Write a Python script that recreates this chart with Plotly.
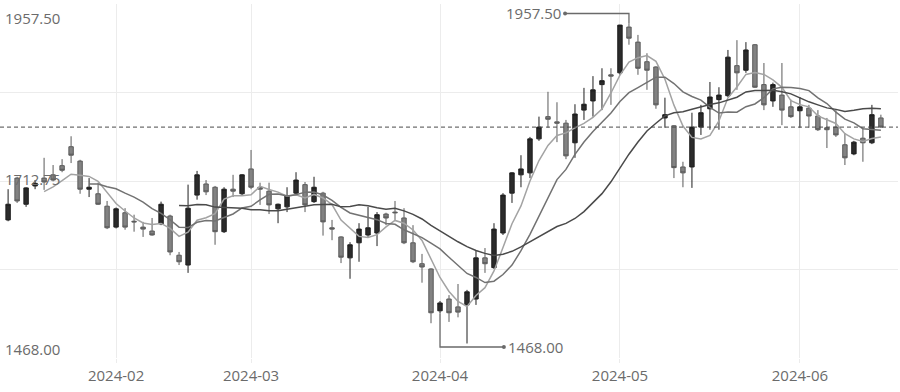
import numpy as np
import pandas as pd
import plotly.graph_objects as go

# ---- categories: trading days (day-of-month per month) ----
JAN = [16, 17, 18, 19, 22, 23, 24, 25, 26, 29, 30, 31]
FEB = [1, 2, 5, 6, 7, 8, 19, 20, 21, 22, 23, 26, 27, 28, 29]
MAR = [1, 4, 5, 6, 7, 8, 11, 12, 13, 14, 15, 18, 19, 20, 21, 22, 25, 26, 27, 28, 29]
APR = [1, 2, 3, 8, 9, 10, 11, 12, 15, 16, 17, 18, 19, 22, 23, 24, 25, 26, 29, 30]
MAY = [6, 7, 8, 9, 10, 13, 14, 15, 16, 17, 20, 21, 22, 23, 24, 27, 28, 29, 30, 31]
JUN = [3, 4, 5, 6, 7, 11, 12, 13, 14, 17]

dates = []
for m, days in [(1, JAN), (2, FEB), (3, MAR), (4, APR), (5, MAY), (6, JUN)]:
    dates += [f"2024-{m:02d}-{d:02d}" for d in days]

# ---- OHLC values ----
open_ = [1657, 1721, 1681, 1709, 1721, 1726, 1740, 1769, 1747, 1704,
         1697, 1678, 1646, 1668, 1655, 1646, 1640, 1651, 1663, 1603,
         1588, 1695, 1712, 1707, 1639, 1704, 1697, 1735, 1707, 1701,
         1674, 1677, 1698, 1711, 1685, 1698, 1645, 1631, 1599, 1622,
         1634, 1637, 1666, 1669, 1660, 1622, 1590, 1582, 1518, 1536,
         1524, 1527, 1536, 1599, 1584, 1637, 1698, 1726, 1729, 1781,
         1815, 1807, 1805, 1775, 1825, 1839, 1864, 1879, 1882, 1952,
         1929, 1899, 1891, 1813, 1801, 1738, 1738, 1799, 1827, 1841,
         1847, 1893, 1886, 1925, 1864, 1839, 1848, 1830, 1824, 1828,
         1816, 1798, 1799, 1772, 1758, 1782, 1775, 1813]
high = [1704, 1723, 1707, 1718, 1752, 1741, 1750, 1785, 1749, 1721,
        1714, 1686, 1676, 1675, 1665, 1654, 1660, 1685, 1665, 1608,
        1711, 1732, 1718, 1709, 1707, 1726, 1727, 1764, 1714, 1714,
        1682, 1707, 1730, 1715, 1723, 1700, 1657, 1632, 1623, 1652,
        1677, 1669, 1668, 1686, 1675, 1649, 1605, 1583, 1533, 1542,
        1559, 1550, 1610, 1614, 1652, 1698, 1730, 1756, 1784, 1815,
        1853, 1837, 1810, 1834, 1859, 1877, 1889, 1889, 1955.5, 1957.5,
        1940, 1912, 1892, 1844, 1802, 1746, 1821, 1833, 1868, 1860,
        1917, 1932, 1929, 1926, 1897, 1867, 1897, 1841, 1845, 1833,
        1825, 1813, 1825, 1790, 1778, 1798, 1833, 1818]
low = [1655, 1683, 1677, 1704, 1703, 1716, 1730, 1744, 1697, 1692,
       1680, 1643, 1644, 1642, 1639, 1631, 1633, 1649, 1603, 1588,
       1576, 1688, 1695, 1619, 1637, 1692, 1695, 1704, 1680, 1666,
       1652, 1669, 1695, 1669, 1683, 1633, 1626, 1591, 1567, 1593,
       1631, 1617, 1649, 1657, 1620, 1591, 1561, 1499, 1514, 1501,
       1508, 1468, 1527, 1576, 1582, 1634, 1683, 1707, 1721, 1778,
       1798, 1776, 1750, 1752, 1810, 1815, 1825, 1833, 1879, 1925,
       1879, 1856, 1827, 1798, 1721, 1707, 1706, 1787, 1795, 1795,
       1845, 1856, 1882, 1859, 1825, 1830, 1802, 1813, 1798, 1798,
       1793, 1767, 1784, 1741, 1756, 1746, 1773, 1798]
close = [1681, 1686, 1706, 1713, 1715, 1718, 1733, 1756, 1704, 1707,
         1681, 1645, 1674, 1646, 1654, 1643, 1634, 1681, 1608, 1593,
         1675, 1726, 1700, 1639, 1704, 1701, 1726, 1707, 1704, 1680,
         1681, 1694, 1718, 1680, 1707, 1654, 1643, 1600, 1619, 1643,
         1645, 1665, 1660, 1668, 1622, 1593, 1585, 1515, 1530, 1515,
         1516, 1547, 1599, 1590, 1643, 1695, 1729, 1735, 1781, 1799,
         1811, 1805, 1755, 1819, 1834, 1856, 1870, 1877, 1955, 1935,
         1889, 1886, 1833, 1818, 1737, 1729, 1799, 1821, 1845, 1848,
         1906, 1882, 1917, 1860, 1833, 1864, 1825, 1815, 1830, 1816,
         1795, 1795, 1787, 1752, 1776, 1775, 1818, 1799]

MA_WINDOWS = [5, 10, 20]
MONTH_TICKS = ["2024-02", "2024-03", "2024-04", "2024-05", "2024-06"]
MIN_MARK_INDEX = 48  # candle the low-marker connector is attached to

# ---- styles ----
FONT = "Open Sans"
TXT = "#6b6b6b"
GRID = "#ececec"
MA_COLORS = ["#a3a3a3", "#727272", "#4a4a4a"]

H_PX, MT, MB = 392, 4, 34
Y_RANGE = [1445.8, 1987.3]
ppu = (H_PX - MT - MB) / (Y_RANGE[1] - Y_RANGE[0])

closes = pd.Series(close, dtype=float)

fig = go.Figure()
fig.add_trace(go.Candlestick(
    x=dates, open=open_, high=high, low=low, close=close,
    increasing=dict(line=dict(color="#1e1e1e", width=1), fillcolor="#2b2b2b"),
    decreasing=dict(line=dict(color="#5a5a5a", width=1), fillcolor="#828282"),
    whiskerwidth=0, showlegend=False, hoverinfo="skip",
))
for w, col in zip(MA_WINDOWS, MA_COLORS):
    ma = closes.rolling(w).mean()
    fig.add_trace(go.Scatter(x=dates, y=ma, mode="lines",
                             line=dict(color=col, width=1.5),
                             showlegend=False, hoverinfo="skip"))

ymax = max(high)
ymin = min(low)
imax = high.index(ymax)
ymid = (ymax + ymin) / 2

shapes = []
annos = []
# last price dashed line
shapes.append(dict(type="line", xref="paper", x0=0, x1=1, yref="y",
                   y0=close[-1], y1=close[-1],
                   line=dict(color="#4a4a4a", width=1, dash="4px,3px")))

# max marker
mk_col = "#6a6a6a"
ymax_line = ymax + 10 / ppu
xmax_lbl = imax - 7.1
shapes.append(dict(type="path", xref="x", yref="y",
                   path=f"M {xmax_lbl},{ymax_line} L {imax},{ymax_line} L {imax},{ymax}",
                   line=dict(color=mk_col, width=1.3)))
shapes.append(dict(type="circle", xref="x", yref="y", xsizemode="pixel", ysizemode="pixel",
                   xanchor=xmax_lbl, yanchor=ymax_line, x0=-2, x1=2, y0=-2, y1=2,
                   fillcolor=mk_col, line=dict(width=0)))
annos.append(dict(x=xmax_lbl, y=ymax_line, xref="x", yref="y", text=f"{ymax:.2f}",
                  showarrow=False, xanchor="right", yanchor="middle", xshift=-2,
                  font=dict(family=FONT, size=15, color=TXT)))

# min marker
ymin_line = ymin - 3.5 / ppu
xmin_lbl = MIN_MARK_INDEX + 7.1
shapes.append(dict(type="path", xref="x", yref="y",
                   path=f"M {MIN_MARK_INDEX},{low[MIN_MARK_INDEX]} L {MIN_MARK_INDEX},{ymin_line} L {xmin_lbl},{ymin_line}",
                   line=dict(color=mk_col, width=1.3)))
shapes.append(dict(type="circle", xref="x", yref="y", xsizemode="pixel", ysizemode="pixel",
                   xanchor=xmin_lbl, yanchor=ymin_line, x0=-2, x1=2, y0=-2, y1=2,
                   fillcolor=mk_col, line=dict(width=0)))
annos.append(dict(x=xmin_lbl, y=ymin_line, xref="x", yref="y", text=f"{ymin:.2f}",
                  showarrow=False, xanchor="left", yanchor="middle", xshift=2,
                  font=dict(family=FONT, size=15, color=TXT)))

# y-axis labels inside plot
for val, ys in [(ymax, 5.5), (ymid, 4.5), (ymin, -5.5)]:
    annos.append(dict(x=0, xref="paper", y=val, yref="y", text=f"{val:.2f}",
                      showarrow=False, xanchor="left", yanchor="middle",
                      xshift=3, yshift=ys,
                      font=dict(family=FONT, size=15, color=TXT)))

tickvals = []
for t in MONTH_TICKS:
    tickvals.append(next(d for d in dates if d.startswith(t)))

fig.update_layout(
    width=900, height=H_PX, autosize=False,
    margin=dict(l=0, r=2, t=MT, b=MB),
    paper_bgcolor="white", plot_bgcolor="white",
    shapes=shapes, annotations=annos,
    xaxis=dict(type="category", range=[-0.9, len(dates) + 0.9],
               tickvals=tickvals, ticktext=MONTH_TICKS,
               showgrid=True, gridcolor=GRID, gridwidth=1,
               ticks="outside", ticklen=4, tickcolor=GRID,
               tickfont=dict(family=FONT, size=15, color=TXT),
               showline=False, zeroline=False,
               rangeslider=dict(visible=False)),
    yaxis=dict(range=Y_RANGE, tickvals=list(np.linspace(Y_RANGE[0], Y_RANGE[1], 5)),
               showticklabels=False, showgrid=True, gridcolor=GRID, gridwidth=1,
               zeroline=False, showline=False),
)

fig.write_html("out.html")
